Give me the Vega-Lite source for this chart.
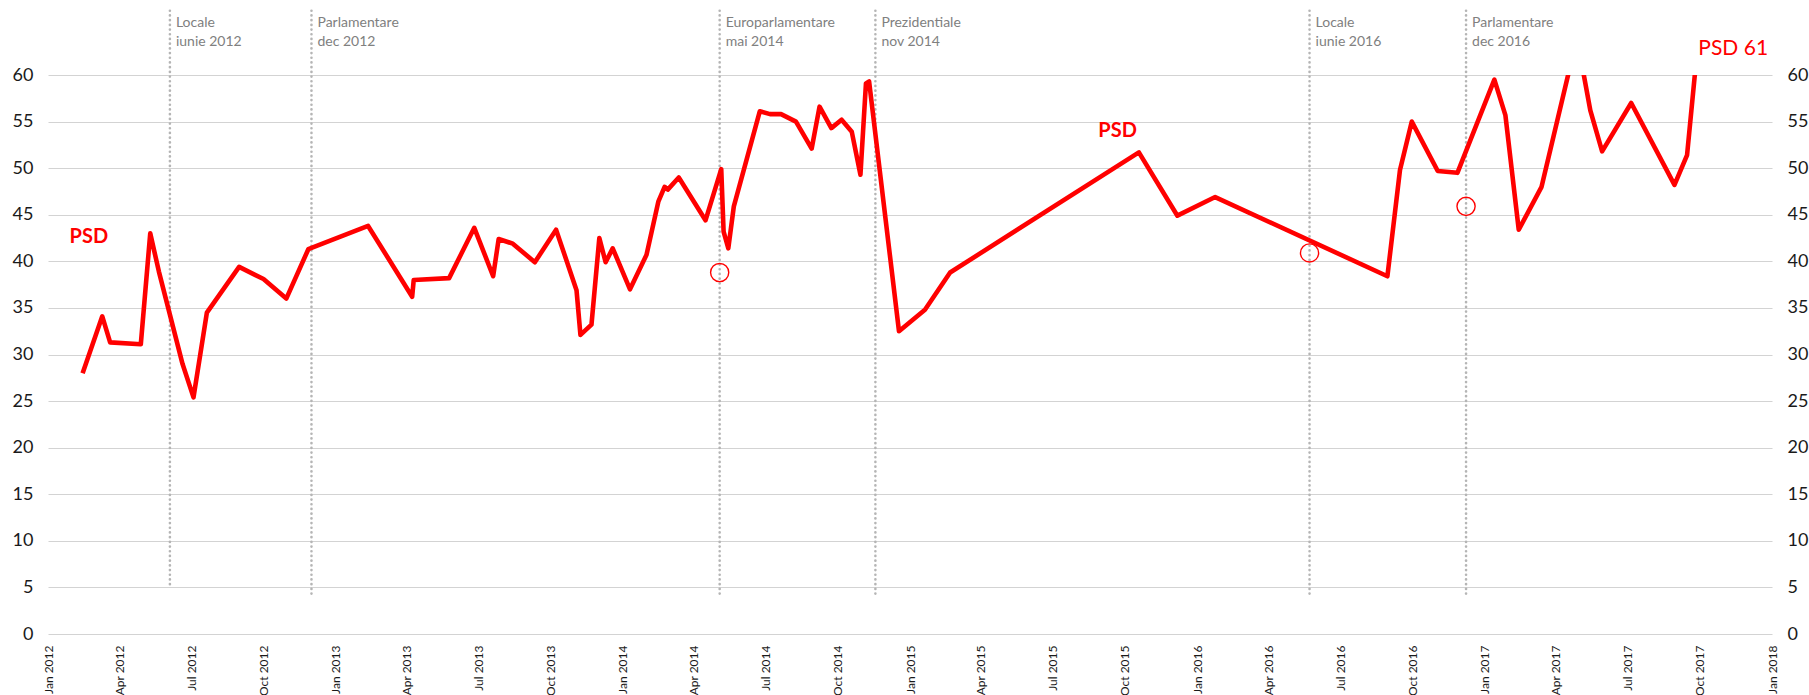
{
  "$schema": "https://vega.github.io/schema/vega-lite/v6.json",
  "width": 1724,
  "height": 559,
  "autosize": {"type": "none"},
  "padding": {"left": 48, "right": 37, "top": 75, "bottom": 61},
  "background": "white",
  "config": {"view": {"stroke": null}, "font": "Lato"},
  "datasets": {
    "psd": [
      {"date": "2012-02-14", "value": 28.0},
      {"date": "2012-03-10", "value": 34.1},
      {"date": "2012-03-20", "value": 31.3},
      {"date": "2012-04-28", "value": 31.1},
      {"date": "2012-05-10", "value": 43.0},
      {"date": "2012-05-21", "value": 38.9},
      {"date": "2012-06-20", "value": 29.0},
      {"date": "2012-07-04", "value": 25.4},
      {"date": "2012-07-21", "value": 34.5},
      {"date": "2012-08-31", "value": 39.4},
      {"date": "2012-10-01", "value": 38.1},
      {"date": "2012-10-30", "value": 36.0},
      {"date": "2012-11-27", "value": 41.3},
      {"date": "2013-02-11", "value": 43.8},
      {"date": "2013-04-08", "value": 36.2},
      {"date": "2013-04-10", "value": 38.0},
      {"date": "2013-05-25", "value": 38.2},
      {"date": "2013-06-26", "value": 43.6},
      {"date": "2013-07-20", "value": 38.4},
      {"date": "2013-07-27", "value": 42.4},
      {"date": "2013-08-14", "value": 41.9},
      {"date": "2013-09-11", "value": 39.9},
      {"date": "2013-10-08", "value": 43.4},
      {"date": "2013-11-03", "value": 36.9},
      {"date": "2013-11-08", "value": 32.1},
      {"date": "2013-11-22", "value": 33.2},
      {"date": "2013-12-02", "value": 42.5},
      {"date": "2013-12-10", "value": 39.9},
      {"date": "2013-12-19", "value": 41.4},
      {"date": "2014-01-10", "value": 37.0},
      {"date": "2014-01-31", "value": 40.7},
      {"date": "2014-02-15", "value": 46.4},
      {"date": "2014-02-23", "value": 48.0},
      {"date": "2014-02-27", "value": 47.7},
      {"date": "2014-03-13", "value": 49.0},
      {"date": "2014-04-16", "value": 44.4},
      {"date": "2014-05-06", "value": 49.9},
      {"date": "2014-05-09", "value": 43.2},
      {"date": "2014-05-15", "value": 41.4},
      {"date": "2014-05-22", "value": 45.9},
      {"date": "2014-06-24", "value": 56.1},
      {"date": "2014-07-07", "value": 55.8},
      {"date": "2014-07-21", "value": 55.8},
      {"date": "2014-08-09", "value": 55.0},
      {"date": "2014-08-29", "value": 52.1},
      {"date": "2014-09-08", "value": 56.6},
      {"date": "2014-09-23", "value": 54.3},
      {"date": "2014-10-06", "value": 55.2},
      {"date": "2014-10-19", "value": 53.9},
      {"date": "2014-10-30", "value": 49.3},
      {"date": "2014-11-06", "value": 59.1},
      {"date": "2014-11-10", "value": 59.3},
      {"date": "2014-12-18", "value": 32.5},
      {"date": "2015-01-20", "value": 34.8},
      {"date": "2015-02-21", "value": 38.8},
      {"date": "2015-10-19", "value": 51.7},
      {"date": "2015-12-07", "value": 44.9},
      {"date": "2016-01-24", "value": 46.9},
      {"date": "2016-08-30", "value": 38.4},
      {"date": "2016-09-15", "value": 49.8},
      {"date": "2016-09-30", "value": 55.0},
      {"date": "2016-11-02", "value": 49.7},
      {"date": "2016-11-27", "value": 49.5},
      {"date": "2017-01-13", "value": 59.5},
      {"date": "2017-01-27", "value": 55.7},
      {"date": "2017-02-13", "value": 43.4},
      {"date": "2017-03-14", "value": 48.0},
      {"date": "2017-04-28", "value": 64.0},
      {"date": "2017-05-15", "value": 56.2},
      {"date": "2017-05-30", "value": 51.8},
      {"date": "2017-07-06", "value": 57.0},
      {"date": "2017-08-30", "value": 48.2},
      {"date": "2017-09-15", "value": 51.4},
      {"date": "2017-09-26", "value": 61.0}
    ],
    "elections": [
      {"date": "2012-06-04", "text": "Locale\niunie 2012"},
      {"date": "2012-12-01", "text": "Parlamentare\ndec 2012"},
      {"date": "2014-05-04", "text": "Europarlamentare\nmai 2014"},
      {"date": "2014-11-18", "text": "Prezidentiale\nnov 2014"},
      {"date": "2016-05-23", "text": "Locale\niunie 2016"},
      {"date": "2016-12-08", "text": "Parlamentare\ndec 2016"}
    ],
    "results": [
      {"date": "2014-05-04", "value": 38.8},
      {"date": "2016-05-23", "value": 40.9},
      {"date": "2016-12-08", "value": 45.9}
    ],
    "labels": [
      {"date": "2012-02-22", "value": 42.0, "text": "PSD"},
      {"date": "2015-09-22", "value": 53.35, "text": "PSD"}
    ],
    "endlabel": [
      {"date": "2017-12-27", "value": 62.15, "text": "PSD 61"}
    ]
  },
  "encoding": {
    "x": {
      "field": "date",
      "type": "temporal",
      "title": null,
      "scale": {
        "type": "utc",
        "domain": ["2012-01-01", "2018-01-01"],
        "nice": false
      },
      "axis": {
        "labelExpr": "utcFormat(datum.value, '%b %Y')",
        "tickCount": {"interval": "month", "step": 3},
        "labelAngle": 270,
        "labelAlign": "right",
        "labelBaseline": "middle",
        "labelFontSize": 12,
        "labelFontWeight": "normal",
        "labelColor": "#1a1a1a",
        "labelPadding": 11,
        "labelOverlap": false,
        "labelFlush": false,
        "ticks": false,
        "domain": false,
        "grid": false
      }
    }
  },
  "layer": [
    {
      "data": {"name": "elections"},
      "transform": [{"filter": "indexof(datum.text, 'iunie 2012') < 0"}],
      "mark": {"type": "rule", "color": "#b5b5b5", "strokeWidth": 2.6, "strokeDash": [0.1, 4.6], "strokeCap": "round"},
      "encoding": {
        "y": {"datum": 66.9, "type": "quantitative", "scale": {"domain": [0, 60], "nice": false}, "axis": null},
        "y2": {"datum": 3.9}
      }
    },
    {
      "data": {"name": "elections"},
      "transform": [{"filter": "indexof(datum.text, 'iunie 2012') >= 0"}],
      "mark": {"type": "rule", "color": "#b5b5b5", "strokeWidth": 2.6, "strokeDash": [0.1, 4.6], "strokeCap": "round"},
      "encoding": {
        "y": {"datum": 66.9, "type": "quantitative", "scale": {"domain": [0, 60], "nice": false}, "axis": null},
        "y2": {"datum": 4.95}
      }
    },
    {
      "data": {"name": "elections"},
      "mark": {"type": "text", "align": "left", "baseline": "alphabetic", "dx": 6, "fontSize": 14, "color": "#808080", "lineBreak": "\n", "lineHeight": 18.5},
      "encoding": {
        "y": {"datum": 65.15, "type": "quantitative", "scale": {"domain": [0, 60], "nice": false}, "axis": null},
        "text": {"field": "text"}
      }
    },
    {
      "data": {"name": "psd"},
      "mark": {"type": "line", "color": "#ff0000", "strokeWidth": 4.6, "strokeJoin": "round", "clip": true},
      "encoding": {
        "y": {
          "field": "value",
          "type": "quantitative",
          "title": null,
          "scale": {"domain": [0, 60], "nice": false},
          "axis": {
            "orient": "left",
            "values": [0, 5, 10, 15, 20, 25, 30, 35, 40, 45, 50, 55, 60],
            "grid": true,
            "gridColor": "#d3d3d3",
            "gridWidth": 1.2,
            "ticks": false,
            "domain": false,
            "labelFontSize": 18,
            "labelColor": "#1a1a1a",
            "labelPadding": 15
          }
        }
      }
    },
    {
      "data": {"name": "results"},
      "mark": {"type": "point", "shape": "circle", "filled": false, "color": "#ff0000", "strokeWidth": 1.4, "size": 330, "opacity": 1},
      "encoding": {
        "y": {
          "field": "value",
          "type": "quantitative",
          "title": null,
          "scale": {"domain": [0, 60], "nice": false},
          "axis": {
            "orient": "right",
            "values": [0, 5, 10, 15, 20, 25, 30, 35, 40, 45, 50, 55, 60],
            "grid": false,
            "ticks": false,
            "domain": false,
            "labelFontSize": 18,
            "labelColor": "#1a1a1a",
            "labelPadding": 15
          }
        }
      }
    },
    {
      "data": {"name": "labels"},
      "mark": {"type": "text", "align": "center", "baseline": "alphabetic", "fontSize": 20, "fontWeight": "bold", "color": "#ff0000"},
      "encoding": {
        "y": {"field": "value", "type": "quantitative", "scale": {"domain": [0, 60], "nice": false}, "axis": null},
        "text": {"field": "text"}
      }
    },
    {
      "data": {"name": "endlabel"},
      "mark": {"type": "text", "align": "right", "baseline": "alphabetic", "fontSize": 21, "color": "#ff0000"},
      "encoding": {
        "y": {"field": "value", "type": "quantitative", "scale": {"domain": [0, 60], "nice": false}, "axis": null},
        "text": {"field": "text"}
      }
    }
  ],
  "resolve": {"axis": {"y": "independent"}}
}
